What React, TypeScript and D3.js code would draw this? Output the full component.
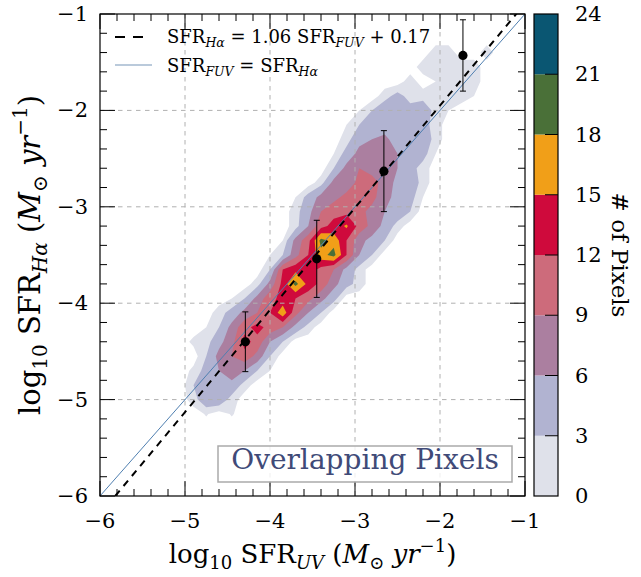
import React from 'react';
import * as d3 from 'd3';

// ---------- data ----------
const axisMajor = [-6, -5, -4, -3, -2, -1];
const axisMinorStep = 0.2;

const levels = [1, 3, 6, 9, 12, 15, 18, 21];
const levelColors = ['#dfe1ea', '#b1b3d1', '#ab7fa0', '#cd6b7b', '#cf0a3c', '#f19f18', '#4a7038', '#0a5672'];
const cbarTicks = [0, 3, 6, 9, 12, 15, 18, 21, 24];

// 2D histogram of overlapping pixels (0.15 dex bins)
const gridX0 = -5.05; // centre of first column
const gridY0 = -1.25; // centre of first (top) row
const gridStep = 0.15;
const gridCols = 25;
const rowOffset = [0, 20, 19, 18, 16, 14, 13, 13, 12, 12, 11, 9, 9, 9, 8, 7, 7, 6, 4, 3, 2, 1, 2, 1, 1, 1, 2, 0];
const rowCounts: number[][] = [
  [],
  [2, 2, 0, 0, 2],
  [2, 2, 2, 2, 2],
  [2, 0, 1, 2, 2, 2],
  [2, 4, 2, 2, 2, 2, 2, 1],
  [1, 3, 5, 5, 4, 5, 2, 1],
  [1, 3, 5, 4, 5, 5, 4, 2],
  [2, 5, 6, 7, 4, 5, 5, 2],
  [1, 4, 7, 8, 7, 6, 5, 4, 1],
  [3, 7, 9, 8, 8, 6, 4, 2],
  [2, 7, 7, 10, 10, 8, 5, 5, 2],
  [1, 4, 7, 8, 10, 11, 10, 7, 5, 4, 1],
  [2, 5, 9, 11, 11, 10, 8, 6, 5, 3],
  [2, 6, 11, 13, 15.5, 11, 8, 5, 2],
  [1, 7, 11, 19, 17, 12, 7, 5, 3],
  [1, 3, 8, 12, 17, 19, 12, 6, 3],
  [3, 12, 14, 14, 11, 9, 5, 2],
  [2, 7, 13, 19, 14, 11, 7, 4, 2],
  [1, 3, 7, 11, 13, 12, 10, 7, 4],
  [2, 4, 7, 9, 12, 17, 10, 6, 3],
  [1, 3, 7, 11, 13, 11, 9, 5, 2],
  [1.5, 2, 5, 8, 13, 11, 6, 3],
  [3, 7, 9, 11, 8, 3],
  [1.5, 4, 6, 8, 6, 3, 1],
  [3, 5, 5, 5, 2],
  [2, 5, 5, 2],
  [1.2, 0, 1.2],
  [],
];

// binned medians with scatter
const pointX = [-4.29, -3.45, -2.66, -1.73];
const pointY = [-4.40, -3.54, -2.63, -1.43];
const pointErr = [0.31, 0.40, 0.42, 0.37];

const fitSlope = 1.06;
const fitIntercept = 0.17;

// ---------- layout ----------
const W = 641;
const H = 577;
const L = 100, R = 525, T = 14, B = 496;
const CB_L = 534, CB_R = 558;
const FONT = "'DejaVu Serif', serif";

const minus = (v: number) => (v < 0 ? '\u2212' + Math.abs(v) : String(v));

export default function App() {
  const x = d3.scaleLinear().domain([-6, -1]).range([L, R]);
  const y = d3.scaleLinear().domain([-6, -1]).range([B, T]);
  const c = d3.scaleLinear().domain([0, 24]).range([B, T]);

  const ny = rowCounts.length;
  const values = new Array(gridCols * ny).fill(0);
  rowCounts.forEach((row, j) => row.forEach((v, i) => { values[j * gridCols + rowOffset[j] + i] = v; }));
  const contours = d3.contours().size([gridCols, ny]).thresholds(levels)(values);
  const proj = d3.geoTransform({
    point: function (gx: number, gy: number) {
      // @ts-ignore
      this.stream.point(x(gridX0 + (gx - 0.5) * gridStep), y(gridY0 - (gy - 0.5) * gridStep));
    },
  });
  const path = d3.geoPath(proj as any);

  const minor = d3.range(-6, -1 + 1e-9, axisMinorStep);
  const inner = axisMajor.slice(1, -1);

  const fitX0 = (-6 - fitIntercept) / fitSlope;

  return (
    <svg width={W} height={H} style={{ display: 'block', position: 'absolute', left: 0, top: 0 }} fontFamily={FONT}>
      <defs>
        <clipPath id="plotclip"><rect x={L} y={T} width={R - L} height={B - T} /></clipPath>
      </defs>
      <rect x={0} y={0} width={W} height={H} fill="#fff" />
      {/* contours */}
      <g clipPath="url(#plotclip)">
        {contours.map((cn, i) => (
          <path key={i} d={path(cn as any) || ''} fill={levelColors[i]} fillRule="evenodd" stroke="none" />
        ))}
      </g>
      {/* grid */}
      <g stroke="#b0b0b0" strokeWidth={1} strokeDasharray="4.5,4.5">
        {inner.map(v => <line key={'gx' + v} x1={x(v)} x2={x(v)} y1={T} y2={B} />)}
        {inner.map(v => <line key={'gy' + v} y1={y(v)} y2={y(v)} x1={L} x2={R} />)}
      </g>
      {/* lines */}
      <g clipPath="url(#plotclip)">
        <line x1={x(-6)} y1={y(-6)} x2={x(-1)} y2={y(-1)} stroke="#4f7fb0" strokeWidth={1} />
        <line x1={x(fitX0)} y1={y(-6)} x2={x(-1)} y2={y(fitSlope * -1 + fitIntercept)} stroke="#000" strokeWidth={2} strokeDasharray="7,6" />
      </g>
      {/* error bars */}
      <g stroke="#000" strokeWidth={1}>
        {pointX.map((px, i) => (
          <g key={i}>
            <line x1={x(px)} x2={x(px)} y1={y(pointY[i] - pointErr[i])} y2={y(pointY[i] + pointErr[i])} />
            <line x1={x(px) - 3} x2={x(px) + 3} y1={y(pointY[i] - pointErr[i])} y2={y(pointY[i] - pointErr[i])} />
            <line x1={x(px) - 3} x2={x(px) + 3} y1={y(pointY[i] + pointErr[i])} y2={y(pointY[i] + pointErr[i])} />
          </g>
        ))}
      </g>
      {pointX.map((px, i) => <circle key={i} cx={x(px)} cy={y(pointY[i])} r={4.6} fill="#000" />)}

      {/* frame and ticks */}
      <rect x={L} y={T} width={R - L} height={B - T} fill="none" stroke="#000" strokeWidth={1.2} />
      <g stroke="#000" strokeWidth={1}>
        {minor.map((v, i) => {
          const isMaj = axisMajor.some(m => Math.abs(m - v) < 1e-6);
          const len = isMaj ? 15 : 7;
          return (
            <g key={i}>
              <line x1={x(v)} x2={x(v)} y1={B} y2={B - len} />
              <line x1={x(v)} x2={x(v)} y1={T} y2={T + len} />
              <line y1={y(v)} y2={y(v)} x1={L} x2={L + len} />
              <line y1={y(v)} y2={y(v)} x1={R} x2={R - len} />
            </g>
          );
        })}
      </g>
      {/* tick labels */}
      <g fontSize={21} fill="#000">
        {axisMajor.map(v => <text key={'tx' + v} x={x(v)} y={528} textAnchor="middle">{minus(v)}</text>)}
        {axisMajor.map(v => <text key={'ty' + v} x={88} y={y(v) + 7} textAnchor="end">{minus(v)}</text>)}
      </g>
      {/* axis labels */}
      <text x={(L + R) / 2} y={563} textAnchor="middle" fontSize={26}>
        log<tspan fontSize={18} dy={6}>10</tspan><tspan dy={-6}> SFR</tspan>
        <tspan fontSize={18} dy={6} fontStyle="italic">UV</tspan>
        <tspan dy={-6}> (</tspan><tspan fontStyle="italic">M</tspan>
        <tspan fontSize={18} dy={6}>⊙</tspan><tspan dy={-6}> </tspan>
        <tspan fontStyle="italic">yr</tspan><tspan fontSize={18} dy={-11}>−1</tspan>
        <tspan dy={11}>)</tspan>
      </text>
      <text transform={`translate(40,${(T + B) / 2}) rotate(-90)`} textAnchor="middle" fontSize={29}>
        log<tspan fontSize={20} dy={7}>10</tspan><tspan dy={-7}> SFR</tspan>
        <tspan fontSize={20} dy={7} fontStyle="italic">Hα</tspan>
        <tspan dy={-7}> (</tspan><tspan fontStyle="italic">M</tspan>
        <tspan fontSize={20} dy={7}>⊙</tspan><tspan dy={-7}> </tspan>
        <tspan fontStyle="italic">yr</tspan><tspan fontSize={20} dy={-13}>−1</tspan>
        <tspan dy={13}>)</tspan>
      </text>

      {/* legend */}
      <line x1={115} x2={145} y1={37} y2={37} stroke="#000" strokeWidth={2} strokeDasharray="10,8" />
      <line x1={115} x2={152} y1={65} y2={65} stroke="#a3b8cf" strokeWidth={1.5} />
      <text x={167} y={43} fontSize={18}>
        SFR<tspan fontSize={12.5} dy={4} fontStyle="italic">Hα</tspan><tspan dy={-4}> = 1.06 SFR</tspan>
        <tspan fontSize={12.5} dy={4} fontStyle="italic">FUV</tspan><tspan dy={-4}> + 0.17</tspan>
      </text>
      <text x={167} y={72} fontSize={18}>
        SFR<tspan fontSize={12.5} dy={4} fontStyle="italic">FUV</tspan><tspan dy={-4}> = SFR</tspan>
        <tspan fontSize={12.5} dy={4} fontStyle="italic">Hα</tspan>
      </text>

      {/* annotation box */}
      <rect x={218} y={446} width={294} height={36} fill="#fff" fillOpacity={0.8} stroke="#aaaaaa" strokeWidth={1.5} />
      <text x={365} y={469} textAnchor="middle" fontSize={28} fill="#404a78">Overlapping Pixels</text>

      {/* colorbar */}
      {levelColors.map((col, i) => (
        <rect key={i} x={CB_L} width={CB_R - CB_L} y={c(cbarTicks[i + 1])} height={c(cbarTicks[i]) - c(cbarTicks[i + 1])} fill={col} />
      ))}
      <g stroke="#000" strokeWidth={1}>
        {cbarTicks.slice(1, -1).map(v => <line key={v} x1={CB_R} x2={CB_R - 13} y1={c(v)} y2={c(v)} />)}
      </g>
      <rect x={CB_L} y={T} width={CB_R - CB_L} height={B - T} fill="none" stroke="#000" strokeWidth={1.2} />
      <g fontSize={21}>
        {cbarTicks.map(v => <text key={v} x={575} y={c(v) + 7}>{v}</text>)}
      </g>
      <text transform={`translate(612,${(T + B) / 2}) rotate(90)`} textAnchor="middle" fontSize={23}># of Pixels</text>
    </svg>
  );
}
